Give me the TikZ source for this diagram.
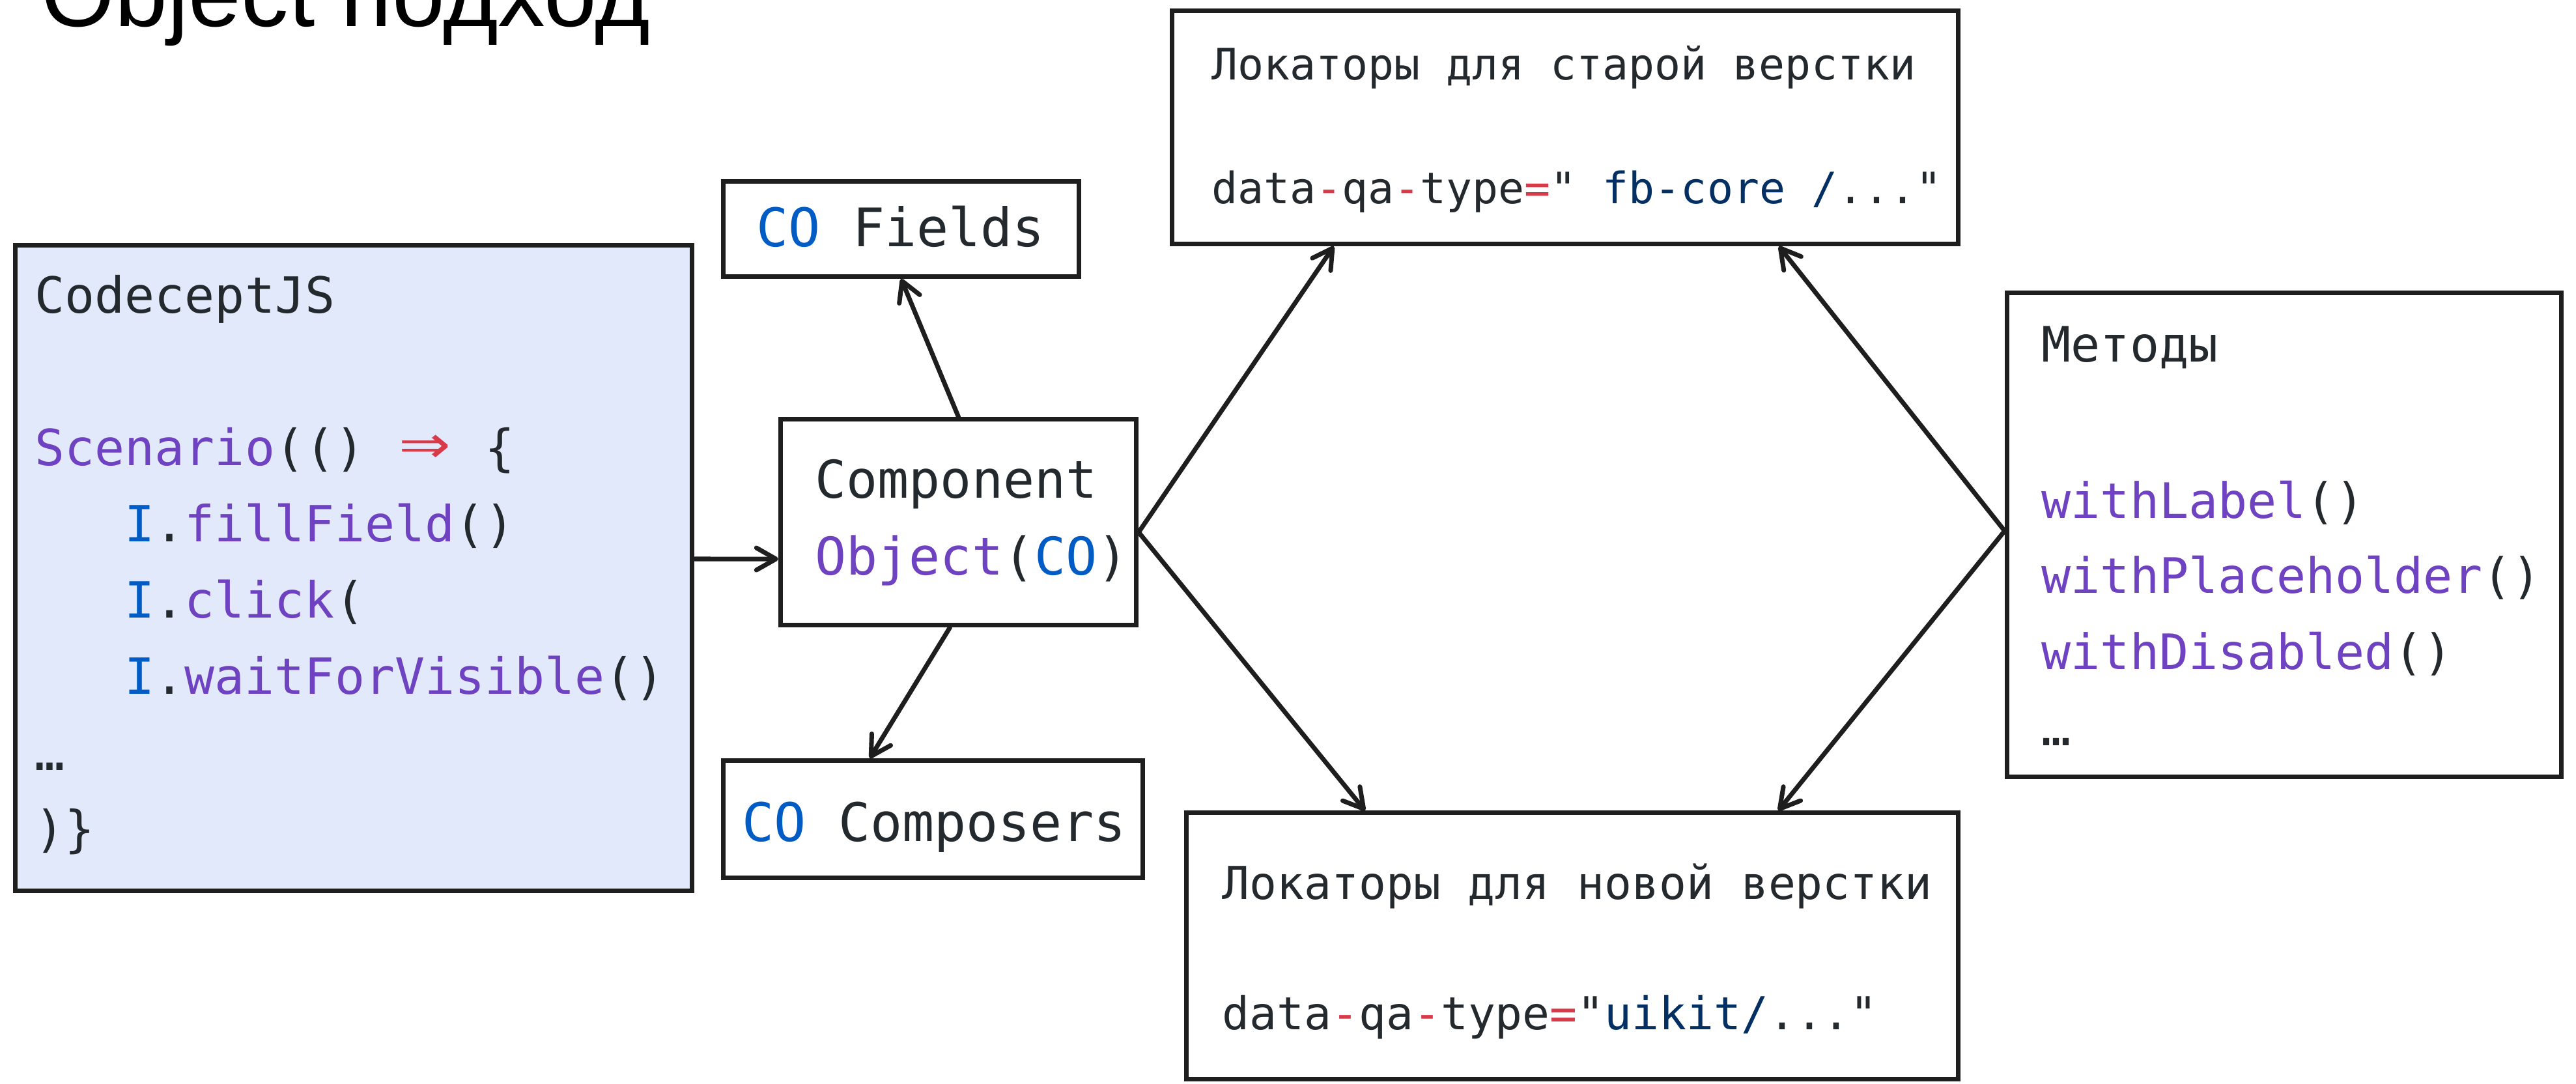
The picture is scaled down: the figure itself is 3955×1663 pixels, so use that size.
\documentclass[tikz,border=0pt]{standalone}
\usepackage{fontspec}
\usepackage{graphicx}
\setmonofont{DejaVu Sans Mono}
\newfontfamily\titlefont{Liberation Sans}
\usetikzlibrary{arrows.meta}
\definecolor{txtcol}{HTML}{24292E}
\definecolor{fncol}{HTML}{6F42C1}
\definecolor{idcol}{HTML}{005CC5}
\definecolor{opcol}{HTML}{D73A49}
\definecolor{strcol}{HTML}{032F62}
\definecolor{linecol}{HTML}{1E1E1E}
\definecolor{codebg}{HTML}{E1E9FB}
\newcommand{\cfn}[1]{\textcolor{fncol}{#1}}
\newcommand{\cid}[1]{\textcolor{idcol}{#1}}
\newcommand{\cop}[1]{\textcolor{opcol}{#1}}
\newcommand{\cstr}[1]{\textcolor{strcol}{#1}}
\newcommand{\codesize}[1]{\ttfamily\fontsize{#1}{#1}\selectfont}
\tikzstyle{box}=[rectangle, draw=linecol
%,fill=white
,line width=2pt
,inner sep=0pt
]
\tikzstyle{code}=[anchor=base west, inner sep=0pt, text=txtcol]
\tikzstyle{edge} = [draw=linecol,line width=2pt,line cap=round,-{Straight Barb[length=3mm,width=3.4mm,round]}]

\begin{document}
\begin{tikzpicture}[x=0.01cm,y=-0.01cm]
    \useasboundingbox (0,0) rectangle (3955,1663);
    % Title, cut by the top of the page
    \node[anchor=base west, inner sep=0pt, font=\titlefont\fontsize{41.3}{45}\selectfont] (title) at (63,40) {Object подход};

    % First we draw the boxes
    \node[box, fill=codebg, minimum width=10.39cm, minimum height=9.91cm] (code) at (543,872) {};
    \foreach \pos/\name/\w/\h in {{(1383.5,351.5)/fields/5.46/1.46}, {(1471.5,801.5)/comp/5.46/3.16}, {(1432.5,1257.5)/composers/6.44/1.80}, {(2403,195.5)/oldloc/12.07/3.58}, {(2414,1452)/newloc/11.85/4.08}, {(3507,821)/methods/8.51/7.43}}
        \node[box, minimum width=\w cm, minimum height=\h cm] (\name) at \pos {};

    % Then the text lines of each box
    \foreach \x/\y/\txt [count=\i] in {53/480/{CodeceptJS}, 53/714/{\cfn{Scenario}(() \cop{\makebox[1.2em]{\scalebox{1.7}[1.4]{⇒}}} \{}, 191/831/{\cid{I}.\cfn{fillField}()}, 191/948/{\cid{I}.\cfn{click}(}, 191/1065/{\cid{I}.\cfn{waitForVisible}()}, 53/1182/{…}, 53/1299/{)\}}}
        \node[code, font=\codesize{21.75}] (codeline\i) at (\x,\y) {\txt};

    \node[code, font=\codesize{23.2}] (fieldsline) at (1161,378) {\cid{CO} Fields};
    \node[code, font=\codesize{22.7}] (compline1) at (1251,764) {Component};
    \node[code, font=\codesize{22.7}] (compline2) at (1251,882) {\cfn{Object}(\cid{CO})};
    \node[code, font=\codesize{23.2}] (composersline) at (1139,1291) {\cid{CO} Composers};

    \node[code, font=\codesize{18.9}] (oldline1) at (1860,122) {Локаторы для старой верстки};
    \node[code, font=\codesize{18.9}] (oldline2) at (1860,312) {data\cop{-}qa\cop{-}type\cop{=}" \cstr{fb-core /}..."};
    \node[code, font=\codesize{19.8}] (newline1) at (1876,1380) {Локаторы для новой верстки};
    \node[code, font=\codesize{19.8}] (newline2) at (1876,1580) {data\cop{-}qa\cop{-}type\cop{=}"\cstr{uikit/}..."};

    \foreach \y/\txt [count=\i] in {555/{Методы}, 795/{\cfn{withLabel}()}, 910/{\cfn{withPlaceholder}()}, 1027/{\cfn{withDisabled}()}, 1144/{…}}
        \node[code, font=\codesize{21.3}] (methline\i) at (3134,\y) {\txt};

    % Ports on the box borders where the arrows start and end
    \coordinate (codeout) at ([yshift=1.4mm]code.east);
    \coordinate (compin) at ([yshift=-5.65mm]comp.west);
    \coordinate (compdown) at ([xshift=-1.3mm]comp.south);
    \coordinate (compout) at ([yshift=-1.55mm]comp.east);
    \coordinate (compsin) at ([xshift=-9.7mm]composers.north);
    \coordinate (methout) at ([yshift=0.6mm]methods.west);
    \coordinate (oldin1) at ([xshift=-3.55cm]oldloc.south);
    \coordinate (oldin2) at ([xshift=3.28cm]oldloc.south);
    \coordinate (newin1) at ([xshift=-3.18cm]newloc.north);
    \coordinate (newin2) at ([xshift=3.16cm]newloc.north);

    % Connect boxes with arrows
    \foreach \source/\dest in {codeout/compin, comp.north/fields.south, compdown/compsin, compout/oldin1, compout/newin1, methout/oldin2, methout/newin2}
        \path[edge] (\source) -- (\dest);

\end{tikzpicture}
\end{document}
